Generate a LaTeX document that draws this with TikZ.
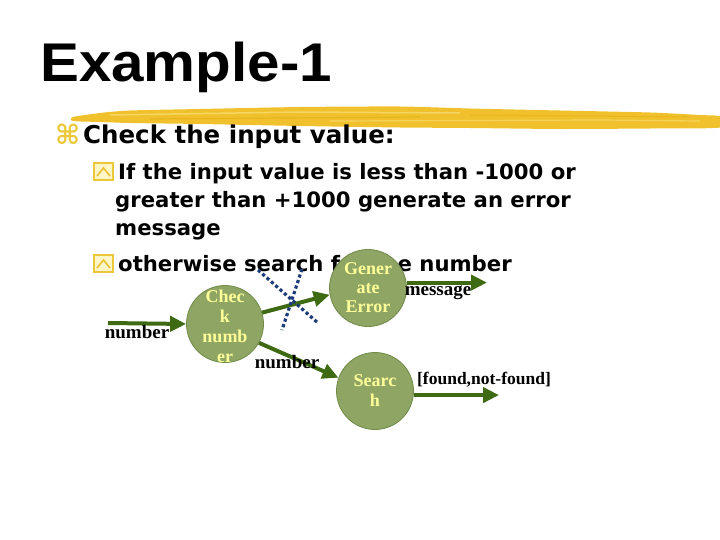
\documentclass[tikz,border=0pt]{standalone}
\usepackage{fontspec}
\usepackage{graphicx}
\setmainfont{Liberation Serif}
\newfontfamily\titlefont{Liberation Sans}
\newfontfamily\bodyfont{DejaVu Sans}
\usetikzlibrary{arrows.meta}
\definecolor{bubble}{HTML}{8FA563}
\definecolor{bubbleline}{HTML}{6E8A45}
\definecolor{bubbletext}{HTML}{FFFF99}
\definecolor{arrowgreen}{HTML}{3D6A12}
\definecolor{crossblue}{HTML}{1F3C7A}
\definecolor{brush}{HTML}{F0C12C}
\definecolor{brushlight}{HTML}{F8DC70}
\definecolor{brushdark}{HTML}{E2AE10}
\definecolor{bulletyellow}{HTML}{EBC83A}
\definecolor{bulletfill}{HTML}{FFF6C8}
\begin{document}
\begin{tikzpicture}[x=1pt,y=-1pt,
  proc/.style={circle, fill=bubble, draw=bubbleline, line width=0.8pt, minimum size=77pt, inner sep=0pt},
  proctext/.style={text=bubbletext, font=\fontsize{18}{#1}\selectfont\bfseries, align=center, inner sep=0pt},
  proctext/.default=20,
  flow/.style={draw=arrowgreen, line width=4pt, -{Triangle[length=16pt,width=15pt]}},
  lbl/.style={font=\fontsize{19}{21}\selectfont\bfseries, inner sep=0pt, anchor=base},
  lineone/.style={font=\bodyfont\bfseries\fontsize{24.5}{28}\selectfont, anchor=base west, inner sep=0pt},
  linetwo/.style={font=\bodyfont\bfseries\fontsize{21.2}{28}\selectfont, anchor=base west, inner sep=0pt},
  crossline/.style={draw=crossblue, line width=3.2pt, dash pattern=on 3.2pt off 2.6pt},
  subbul/.pic={
    \draw[draw=bulletyellow, fill=bulletfill, line width=1.4pt] (0,0) rectangle (19,17);
    \draw[draw=bulletyellow!90!orange, line width=1.6pt] (3,13) -- (9.5,5) -- (16,13);
  }
]
\useasboundingbox (0,0) rectangle (720,540);
% brush stroke
\fill[brush] plot[smooth cycle, tension=0.4] coordinates {(73,117) (100,113) (130,110.5) (200,109) (300,107) (400,106.5) (470,108.5) (560,110.5) (650,112.5) (700,115) (720,116.5) (720,127.5) (650,128.5) (560,129) (470,128) (400,127.5) (300,126) (200,124) (130,123) (100,122) (73,121)};
\draw[brushlight, line width=1.5pt, opacity=0.8] (110,115) -- (300,112) -- (460,113);
\draw[brushlight, line width=1.2pt, opacity=0.7] (330,121) -- (600,120) -- (700,121);
\draw[brushdark, line width=1.2pt, opacity=0.6] (150,119) -- (420,117);
\draw[brushdark, line width=1pt, opacity=0.5] (470,115) -- (690,117);
% title
\node[anchor=base west, inner sep=0pt, font=\titlefont\bfseries\fontsize{54.5}{60}\selectfont] (title) at (40,82) {\scalebox{1.07}[1]{Example-1}};
% bullets and text
\node[anchor=base west, inner sep=0pt, text=bulletyellow, font=\bodyfont\bfseries\fontsize{27}{27}\selectfont] (bul0) at (55,145) {⌘};
\node[lineone] (t0) at (83,144) {Check the input value:};
\pic at (94,163) {subbul};
\node[linetwo] (t1) at (118,180) {If the input value is less than -1000 or};
\node[linetwo] (t2) at (115,207.5) {greater than +1000 generate an error};
\node[linetwo] (t3) at (115,236) {message};
\pic at (94,255) {subbul};
\node[linetwo] (t4) at (118,271) {otherwise search for the number};
% process circles
\node[proc] (chk) at (225,324) {};
\node[proc] (gen) at (368,288) {};
\node[proc] (srch) at (375,391) {};
\node[proctext] (chkt) at (225,326) {Chec\\k\\numb\\er};
\node[proctext=19] (gent) at (368,288) {Gener\\ate\\Error};
\node[proctext] (srcht) at (375,391) {Searc\\h};
% connectors
\coordinate (in0) at (108,323);
\coordinate (msgend) at (487,282);
\coordinate (outend) at (499,395);
\draw[flow] (in0) -- (chk.west);
\draw[flow] (chk.17) -- (gen.190);
\draw[flow] (chk.-29) -- (srch.160);
\draw[flow] (gen.8) -- (gen.8 -| msgend);
\draw[flow] (srch.-6) -- (srch.-6 -| outend);
% labels
\node[lbl] (lin) at (137,338) {number};
\node[lbl] (lmid) at (287,368) {number};
\node[lbl] (lmsg) at (438,295) {message};
\node[lbl, font=\fontsize{17.5}{20}\selectfont\bfseries] (lout) at (484,384) {[found,not-found]};
% cross
\coordinate (xa1) at (258,270);
\coordinate (xa2) at (318,323);
\coordinate (xb1) at (302,269);
\coordinate (xb2) at (282,330);
\draw[crossline] (xa1) -- (xa2);
\draw[crossline] (xb1) -- (xb2);
\end{tikzpicture}
\end{document}
